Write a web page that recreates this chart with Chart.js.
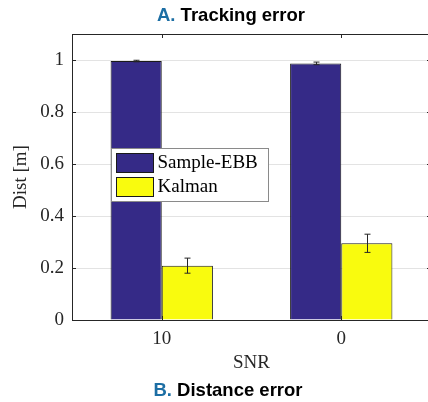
<!DOCTYPE html>
<html>
<head>
<meta charset="utf-8">
<script src="https://cdn.jsdelivr.net/npm/chart.js@4"></script>
<style>
  html, body { margin: 0; padding: 0; background: #fff; }
  #wrap { position: relative; width: 428px; height: 402px; overflow: hidden; }
  #chartBox { position: absolute; left: 0; top: 0; width: 432px; height: 402px; }
  .ttl { position: absolute; left: 0; width: 462px; text-align: center;
         font-family: 'Liberation Sans', Arial, sans-serif; font-weight: bold; font-size: 18.5px; color: #000; }
  .ttl span { color: #1c6ea4; }
</style>
</head>
<body>
<div id="wrap">
  <div id="chartBox"><canvas id="c" width="432" height="402"></canvas></div>
  <div class="ttl" style="top:4px;"><span>A.</span> Tracking error</div>
  <div class="ttl" style="top:379px;width:456px;"><span>B.</span> Distance error</div>
</div>
<script>
// ---- data ----
var snrLabels   = ['10', '0'];
var sampleEbb   = [0.996, 0.987];
var sampleErr   = [0.003, 0.005];
var kalman      = [0.209, 0.295];
var kalmanErr   = [0.029, 0.035];
var yTicksMax   = 1.0;

var serif = "'Liberation Serif', 'Times New Roman', serif";

// error bars drawn on top of the bars
var errorBars = {
  id: 'errorBars',
  afterDatasetsDraw: function(chart) {
    var ctx = chart.ctx, ys = chart.scales.y;
    ctx.save();
    ctx.strokeStyle = '#262626';
    ctx.lineWidth = 1;
    chart.data.datasets.forEach(function(ds, di) {
      var meta = chart.getDatasetMeta(di);
      meta.data.forEach(function(bar, i) {
        var v = ds.data[i], e = ds.errors[i];
        var x = Math.round(bar.x) + 0.5;
        var y1 = ys.getPixelForValue(v + e), y2 = ys.getPixelForValue(v - e);
        ctx.beginPath();
        ctx.moveTo(x, y1); ctx.lineTo(x, y2);
        ctx.moveTo(x - 3, y1); ctx.lineTo(x + 3, y1);
        ctx.moveTo(x - 3, y2); ctx.lineTo(x + 3, y2);
        ctx.stroke();
      });
    });
    ctx.restore();
  }
};

// box around axes + inward ticks + legend inside the plot
var boxAndLegend = {
  id: 'boxAndLegend',
  afterDraw: function(chart) {
    var ctx = chart.ctx, a = chart.chartArea;
    var xs = chart.scales.x, ys = chart.scales.y;
    ctx.save();
    ctx.strokeStyle = '#262626';
    ctx.lineWidth = 1;
    // box
    ctx.strokeRect(Math.round(a.left) + 0.5, Math.round(a.top) + 0.5,
                   Math.round(a.right - a.left), Math.round(a.bottom - a.top));
    // ticks
    ctx.beginPath();
    ys.ticks.forEach(function(t, i) {
      var y = Math.round(ys.getPixelForTick(i)) + 0.5;
      ctx.moveTo(a.left, y); ctx.lineTo(a.left + 4, y);
      ctx.moveTo(a.right, y); ctx.lineTo(a.right - 4, y);
    });
    xs.ticks.forEach(function(t, i) {
      var x = Math.round(xs.getPixelForTick(i)) + 0.5;
      ctx.moveTo(x, a.bottom); ctx.lineTo(x, a.bottom - 4);
      ctx.moveTo(x, a.top); ctx.lineTo(x, a.top + 4);
    });
    ctx.stroke();

    // legend
    var lx = 111.5, ly = 148.5, lw = 157, lh = 53;
    ctx.fillStyle = '#fff';
    ctx.fillRect(lx, ly, lw, lh);
    ctx.strokeStyle = '#8a8a8a';
    ctx.strokeRect(lx, ly, lw, lh);
    ctx.font = '19px ' + serif;
    ctx.textBaseline = 'middle';
    chart.data.datasets.forEach(function(ds, i) {
      var sy = ly + 5 + i * 24;
      ctx.fillStyle = ds.backgroundColor;
      ctx.fillRect(lx + 5, sy, 37, 19);
      ctx.strokeStyle = '#1a1a1a';
      ctx.strokeRect(lx + 5, sy, 37, 19);
      ctx.fillStyle = '#000';
      ctx.fillText(ds.label, lx + 46, sy + 10);
    });
    ctx.restore();
  }
};

new Chart(document.getElementById('c'), {
  type: 'bar',
  data: {
    labels: snrLabels,
    datasets: [
      { label: 'Sample-EBB', data: sampleEbb, errors: sampleErr,
        backgroundColor: '#352a87', borderColor: '#1a1a1a', borderWidth: 1,
        categoryPercentage: 0.57, barPercentage: 1 },
      { label: 'Kalman', data: kalman, errors: kalmanErr,
        backgroundColor: '#f9fb0e', borderColor: '#1a1a1a', borderWidth: 1,
        categoryPercentage: 0.57, barPercentage: 1 }
    ]
  },
  plugins: [errorBars, boxAndLegend],
  options: {
    responsive: false,
    animation: false,
    layout: { padding: { top: 34, right: 1, bottom: 0, left: 0 } },
    plugins: { legend: { display: false }, tooltip: { enabled: false } },
    scales: {
      x: {
        grid: { display: false, drawTicks: false },
        border: { display: false },
        ticks: { color: '#262626', font: { family: serif, size: 19 }, padding: 8 },
        title: { display: true, text: 'SNR', color: '#262626',
                 font: { family: serif, size: 19 }, padding: { top: 0, bottom: 28 } },
        afterFit: function(s) { s.height = 82; }
      },
      y: {
        min: 0, max: 1.1,
        grid: { color: '#e3e3e3', drawTicks: false },
        border: { display: false },
        ticks: { stepSize: 0.2, color: '#262626', font: { family: serif, size: 19 }, padding: 8,
                 callback: function(v) { return String(Math.round(v * 10) / 10); } },
        afterBuildTicks: function(s) {
          s.ticks = s.ticks.filter(function(t) { return t.value <= yTicksMax + 1e-6; });
        },
        title: { display: true, text: 'Dist [m]', color: '#262626',
                 font: { family: serif, size: 19 }, padding: { top: 10, bottom: 0 } },
        afterFit: function(s) { s.width = 72; }
      }
    }
  }
});
</script>
</body>
</html>
